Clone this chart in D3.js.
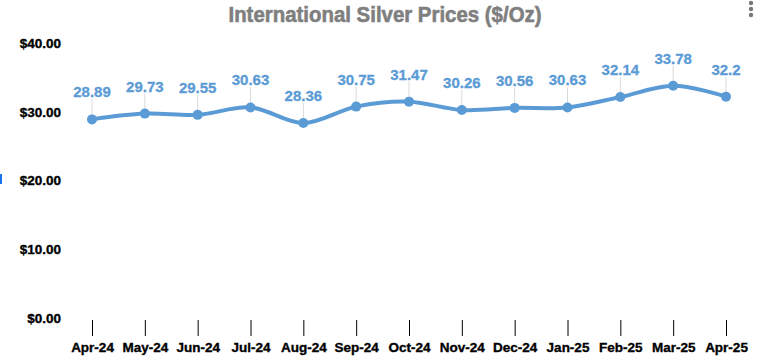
<!DOCTYPE html>
<html><head><meta charset="utf-8">
<script src="https://cdn.jsdelivr.net/npm/d3@7"></script>
<style>html,body{margin:0;padding:0;background:#fff;overflow:hidden}</style>
</head><body>
<svg id="chart" width="762" height="363"></svg>
<script>
const categories = ["Apr-24","May-24","Jun-24","Jul-24","Aug-24","Sep-24","Oct-24","Nov-24","Dec-24","Jan-25","Feb-25","Mar-25","Apr-25"];
const prices = [28.89,29.73,29.55,30.63,28.36,30.75,31.47,30.26,30.56,30.63,32.14,33.78,32.2];
const priceLabels = ["28.89","29.73","29.55","30.63","28.36","30.75","31.47","30.26","30.56","30.63","32.14","33.78","32.2"];
const yTicks = [0,10,20,30,40];
const title = "International Silver Prices ($/Oz)";

const svg = d3.select("#chart");
const blue = "#5b9bd5";
const font = "Liberation Sans, Arial, sans-serif";
const x = d3.scalePoint().domain(categories).range([92, 726]);
const y = d3.scaleLinear().domain([0, 40]).range([318, 43]);

svg.append("text").attr("x", 385).attr("y", 22).attr("text-anchor", "middle")
  .attr("font-family", font).attr("font-weight", "bold")
  .attr("font-size", 21.5).attr("fill", "#7f7f7f").attr("stroke", "#7f7f7f").attr("stroke-width", 0.6)
  .attr("transform","translate(385,0) scale(0.95,1) translate(-385,0)").text(title);

// three-dots menu icon
[3, 9, 15].forEach(cy => svg.append("circle").attr("cx", 751).attr("cy", cy).attr("r", 2.2).attr("fill", "#777"));
// small blue marker on left edge
svg.append("rect").attr("x", 0).attr("y", 174).attr("width", 2).attr("height", 10).attr("fill", "#1a73e8");

// y axis labels
const yAxis = d3.axisLeft(y).tickValues(yTicks).tickFormat(d => "$" + d3.format(".2f")(d)).tickSize(0).tickPadding(0);
const ya = svg.append("g").attr("transform", "translate(61,0)").call(yAxis);
ya.select(".domain").remove();
ya.selectAll("text").attr("font-family", font).attr("font-weight", "bold")
  .attr("font-size", 13.5).attr("fill", "#000").attr("stroke", "#000").attr("stroke-width", 0.35);

// x axis ticks + labels
const xAxis = d3.axisBottom(x).tickSize(16).tickPadding(6);
const xa = svg.append("g").attr("transform", "translate(0,320)").call(xAxis);
xa.select(".domain").remove();
xa.selectAll(".tick line").attr("stroke", "#000").attr("stroke-width", 1);
xa.selectAll("text").attr("font-family", font).attr("font-weight", "bold")
  .attr("font-size", 13.5).attr("fill", "#000").attr("stroke", "#000").attr("stroke-width", 0.35);

const pts = categories.map((c, i) => ({c, v: prices[i], l: priceLabels[i]}));

// leader lines
svg.append("g").selectAll("line").data(pts).join("line")
  .attr("x1", d => x(d.c)).attr("x2", d => x(d.c))
  .attr("y1", d => y(d.v) - 20).attr("y2", d => y(d.v))
  .attr("stroke", "#d9d9d9").attr("stroke-width", 1);

// line
const line = d3.line().x(d => x(d.c)).y(d => y(d.v)).curve(d3.curveCatmullRom.alpha(0.5));
svg.append("path").datum(pts).attr("d", line).attr("fill", "none")
  .attr("stroke", blue).attr("stroke-width", 4).attr("stroke-linecap", "round");

svg.append("g").selectAll("circle").data(pts).join("circle")
  .attr("cx", d => x(d.c)).attr("cy", d => y(d.v)).attr("r", 5).attr("fill", blue);

svg.append("g").selectAll("text").data(pts).join("text")
  .attr("x", d => x(d.c)).attr("y", d => y(d.v) - 22).attr("text-anchor", "middle")
  .attr("font-family", font).attr("font-weight", "bold")
  .attr("font-size", 15).attr("fill", blue).attr("stroke", blue).attr("stroke-width", 0.3).text(d => d.l);
</script>
</body></html>
